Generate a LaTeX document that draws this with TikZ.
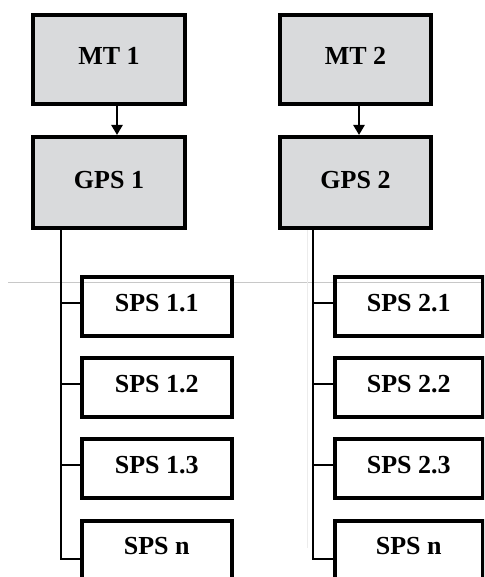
\documentclass[tikz,border=0pt]{standalone}
\usepackage{fontspec}
\setmainfont{Liberation Serif}
\usetikzlibrary{arrows.meta}
\definecolor{boxgray}{HTML}{D9DADC}
\definecolor{artgray}{HTML}{C8C8C8}
\begin{document}
\begin{tikzpicture}[x=1pt,y=-1pt,
  topbox/.style={draw, fill=boxgray, line width=4pt, minimum width=152pt, inner sep=0pt, font=\fontsize{26}{26}\selectfont\bfseries},
  mtbox/.style={topbox, text height=50pt, text depth=39pt},
  gpsbox/.style={topbox, text height=52pt, text depth=39pt},
  spsbox/.style={draw, line width=3.5pt, inner sep=0pt, text height=34.5pt, text depth=24.5pt, font=\fontsize{26}{26}\selectfont\bfseries},
  spslast/.style={spsbox, text height=33.5pt, text depth=50pt},
  link/.style={line width=2.5pt},
  arr/.style={line width=2.5pt, -{Triangle[length=10pt,width=11pt]}}]
\useasboundingbox (0,0) rectangle (484,577);
\begin{scope}
\clip (0,0) rectangle (484,577);
% faint scan artifacts
\draw[artgray, line width=1.2pt] (8,282.5) -- (484,282.5);
\draw[gray!15, line width=0.8pt] (307.3,228) -- (307.3,548);
% column 1
\node[mtbox, anchor=north west] (mt1) at (31,13) {MT 1};
\node[gpsbox, anchor=north west] (gps1) at (31,135) {GPS 1};
\node[spsbox, minimum width=150pt, anchor=north west] (s11) at (80,275) {SPS 1.1};
\node[spsbox, minimum width=150pt, anchor=north west] (s12) at (80,356) {SPS 1.2};
\node[spsbox, minimum width=150pt, anchor=north west] (s13) at (80,437) {SPS 1.3};
\node[spslast, minimum width=150pt, anchor=north west] (s1n) at (80,519) {SPS n};
% column 2
\node[mtbox, minimum width=151pt, anchor=north west] (mt2) at (278,13) {MT 2};
\node[gpsbox, minimum width=151pt, anchor=north west] (gps2) at (278,135) {GPS 2};
\node[spsbox, minimum width=148pt, anchor=north west] (s21) at (333,275) {SPS 2.1};
\node[spsbox, minimum width=148pt, anchor=north west] (s22) at (333,356) {SPS 2.2};
\node[spsbox, minimum width=148pt, anchor=north west] (s23) at (333,437) {SPS 2.3};
\node[spslast, minimum width=148pt, anchor=north west] (s2n) at (333,519) {SPS n};
% arrows
\draw[arr] ([xshift=8pt]mt1.south) -- ([xshift=8pt]gps1.north);
\draw[arr] ([xshift=3.5pt]mt2.south) -- ([xshift=3.5pt]gps2.north);
% trunks
\coordinate (t1) at ([xshift=-48pt]gps1.south);
\coordinate (t2) at ([xshift=-42.5pt]gps2.south);
\draw[link] (t1) |- ([yshift=3.5pt]s1n.west);
\draw[link] (t2) |- ([yshift=3.5pt]s2n.west);
\foreach \n in {s11,s12,s13}{
  \draw[link] ([yshift=3.5pt]\n.west) -- ([yshift=3.5pt]\n.west -| t1);
}
\foreach \n in {s21,s22,s23}{
  \draw[link] ([yshift=3.5pt]\n.west) -- ([yshift=3.5pt]\n.west -| t2);
}
\end{scope}
\end{tikzpicture}
\end{document}
